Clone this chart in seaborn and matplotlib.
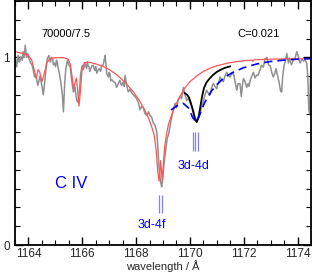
import numpy as np
import pandas as pd
import matplotlib
matplotlib.use("Agg")
import matplotlib.pyplot as plt
from matplotlib.ticker import MultipleLocator
import seaborn as sns

# ---------------- data ----------------
gray_x = [1163.50, 1163.53, 1163.56, 1163.59, 1163.62, 1163.65, 1163.68, 1163.71, 1163.74, 1163.77,
          1163.80, 1163.84, 1163.88, 1163.93, 1163.97, 1164.02, 1164.08,
          1164.14, 1164.23, 1164.28, 1164.35, 1164.43, 1164.52, 1164.55, 1164.60, 1164.64, 1164.70,
          1164.76, 1164.79, 1164.82, 1164.86, 1164.90, 1164.93, 1164.96, 1165.01, 1165.04, 1165.07,
          1165.10, 1165.14, 1165.20, 1165.26, 1165.30,
          1165.35, 1165.39, 1165.45, 1165.50, 1165.55, 1165.60, 1165.67, 1165.73, 1165.79, 1165.84,
          1165.89, 1165.94, 1166.00, 1166.03, 1166.06, 1166.09, 1166.12, 1166.16, 1166.19, 1166.22,
          1166.25, 1166.28, 1166.31, 1166.36, 1166.41, 1166.44,
          1166.47, 1166.50, 1166.54, 1166.58, 1166.63, 1166.68, 1166.72, 1166.78, 1166.81, 1166.85, 1166.91,
          1166.97, 1167.00, 1167.03, 1167.06, 1167.10, 1167.16, 1167.22, 1167.28, 1167.34, 1167.40, 1167.43,
          1167.46, 1167.53, 1167.56,
          1167.59, 1167.65, 1167.71, 1167.77, 1167.84, 1167.90, 1167.96, 1168.02, 1168.08, 1168.15,
          1168.21, 1168.27, 1168.33, 1168.40, 1168.46, 1168.52, 1168.58, 1168.64, 1168.70, 1168.77,
          1168.81, 1168.85, 1168.89, 1168.92, 1168.95, 1168.98, 1169.01, 1169.06, 1169.11, 1169.16,
          1169.20, 1169.26, 1169.32, 1169.38, 1169.45, 1169.50, 1169.56, 1169.63, 1169.69, 1169.76,
          1169.82, 1169.88, 1169.94, 1170.00, 1170.06, 1170.13, 1170.19, 1170.25, 1170.31, 1170.38,
          1170.44, 1170.50, 1170.56, 1170.62, 1170.68, 1170.75, 1170.81, 1170.87, 1170.93, 1171.00,
          1171.03, 1171.06, 1171.12, 1171.18, 1171.24, 1171.27, 1171.30, 1171.37, 1171.43, 1171.50,
          1171.53, 1171.56, 1171.62,
          1171.68, 1171.74, 1171.79, 1171.86, 1171.91, 1171.95, 1171.99, 1172.05, 1172.11, 1172.16,
          1172.20, 1172.24, 1172.30, 1172.36, 1172.42, 1172.48, 1172.53, 1172.60, 1172.66, 1172.73,
          1172.79, 1172.86, 1172.92, 1172.98, 1173.04, 1173.10, 1173.15, 1173.20, 1173.26, 1173.31,
          1173.37, 1173.41, 1173.45, 1173.50, 1173.56, 1173.60, 1173.66, 1173.69, 1173.72, 1173.78,
          1173.81, 1173.84, 1173.90,
          1173.97, 1174.04, 1174.07, 1174.10, 1174.16, 1174.22, 1174.28, 1174.34, 1174.38, 1174.42,
          1174.45, 1174.48, 1174.52]
gray_y = [1.00, 0.97, 0.95, 0.99, 1.01, 0.975, 0.98, 1.00, 1.00, 0.985,
          1.03, 1.00, 1.064, 1.00, 1.02, 0.993, 0.97,
          0.957, 0.895, 0.90, 0.85, 0.90, 0.833, 0.80, 0.86, 0.92, 0.993,
          1.01, 0.985, 0.975, 1.00, 0.99, 0.96, 0.97, 0.95, 0.985, 0.975,
          0.945, 0.92, 0.87, 0.80, 0.71,
          0.87, 0.94, 0.984, 0.96, 0.95, 0.887, 0.815, 0.84, 0.77, 0.76,
          0.815, 0.913, 0.957, 0.935, 0.945, 0.97, 0.96, 0.94, 0.975, 0.955,
          0.95, 0.925, 0.935, 0.955, 0.957, 0.94,
          0.93, 0.95, 0.915, 0.93, 0.94, 0.925, 0.957, 0.96, 0.984, 1.01, 0.913,
          0.895, 0.92, 0.91, 0.875, 0.88, 0.87, 0.865, 0.84, 0.86, 0.877, 0.86,
          0.85, 0.87, 0.845,
          0.904, 0.85, 0.815, 0.83, 0.81, 0.80, 0.79, 0.78, 0.76, 0.72,
          0.74, 0.73, 0.70, 0.69, 0.71, 0.69, 0.68, 0.65, 0.64, 0.60,
          0.52, 0.42, 0.36, 0.33, 0.31, 0.34, 0.39, 0.46, 0.52, 0.57,
          0.585, 0.63, 0.68, 0.72, 0.755, 0.73, 0.77, 0.79, 0.78, 0.84,
          0.80, 0.77, 0.78, 0.76, 0.74, 0.72, 0.68, 0.656, 0.67, 0.70,
          0.74, 0.77, 0.80, 0.825, 0.81, 0.80, 0.84, 0.86, 0.845, 0.833,
          0.855, 0.86, 0.895, 0.88, 0.87, 0.885, 0.90, 0.92, 0.90, 0.895,
          0.915, 0.91, 0.913,
          0.87, 0.825, 0.86, 0.86, 0.79, 0.85, 0.887, 0.87, 0.84, 0.86,
          0.845, 0.878, 0.90, 0.92, 0.89, 0.905, 0.904, 0.93, 0.957, 0.948,
          0.99, 1.00, 0.96, 0.955, 0.92, 0.895, 0.913, 0.94, 0.90, 0.87,
          0.82, 0.815, 0.90, 0.957, 0.99, 1.02, 0.97, 0.995, 0.98, 0.96,
          0.975, 0.985, 0.99,
          1.03, 1.00, 0.975, 0.97, 0.99, 0.98, 0.985, 0.97, 0.90, 0.72,
          0.70, 0.90, 0.98]

red_x = [1163.50, 1163.80, 1164.00, 1164.12, 1164.22, 1164.29, 1164.36, 1164.42, 1164.50, 1164.58,
         1164.68, 1164.80, 1165.00, 1165.30, 1165.48, 1165.56, 1165.62, 1165.68, 1165.74, 1165.78,
         1165.83, 1165.88, 1165.93, 1165.99, 1166.08, 1166.20, 1166.50, 1166.80, 1167.00, 1167.30,
         1167.60, 1167.90, 1168.10, 1168.30, 1168.45, 1168.58, 1168.68, 1168.75, 1168.80, 1168.85,
         1168.88, 1168.91, 1168.94, 1168.97, 1169.01, 1169.06, 1169.12, 1169.20, 1169.30, 1169.45,
         1169.60, 1169.80, 1170.00, 1170.25, 1170.50, 1170.75, 1171.00, 1171.50, 1172.00, 1172.30,
         1172.34, 1172.38, 1173.00, 1173.70, 1174.50]
red_y = [1.03, 1.02, 1.01, 0.985, 0.93, 0.89, 0.935, 0.92, 0.87, 0.91,
         0.97, 0.993, 0.998, 0.998, 0.99, 0.96, 0.90, 0.83, 0.87, 0.89,
         0.82, 0.74, 0.82, 0.93, 0.97, 0.975, 0.965, 0.95, 0.935, 0.905,
         0.865, 0.815, 0.775, 0.725, 0.68, 0.63, 0.58, 0.50, 0.40, 0.34,
         0.38, 0.45, 0.40, 0.345, 0.42, 0.52, 0.58, 0.64, 0.685, 0.74,
         0.785, 0.835, 0.87, 0.90, 0.925, 0.942, 0.955, 0.972, 0.982, 0.985,
         0.978, 0.987, 0.99, 0.992, 0.993]

black_x = [1169.80, 1169.90, 1169.97, 1170.05, 1170.12, 1170.18, 1170.25, 1170.32, 1170.38, 1170.45,
           1170.52, 1170.60, 1170.70, 1170.85, 1171.00, 1171.20, 1171.35, 1171.50]
black_y = [0.81, 0.80, 0.785, 0.75, 0.71, 0.675, 0.655, 0.68, 0.73, 0.79,
           0.835, 0.862, 0.882, 0.905, 0.922, 0.938, 0.946, 0.952]

blue_x = [1169.30, 1169.50, 1169.75, 1169.95, 1170.10, 1170.22, 1170.35, 1170.55, 1170.80, 1171.00,
          1171.30, 1171.60, 1172.00, 1172.50, 1173.00, 1173.50, 1174.00, 1174.50]
blue_y = [0.72, 0.74, 0.755, 0.73, 0.68, 0.655, 0.69, 0.76, 0.82, 0.855,
          0.895, 0.92, 0.945, 0.965, 0.978, 0.985, 0.99, 0.993]

f_lines = [1168.86, 1168.96]
d_lines = [1170.11, 1170.20, 1170.30]

# ---------------- plot ----------------
sns.set_style("ticks")
plt.rcParams['font.family'] = ['Liberation Sans', 'DejaVu Sans']

fig = plt.figure(figsize=(3.12, 2.74), dpi=100)
ax = fig.add_axes([15/312, 29/274, 296/312, 244/274])

sns.lineplot(x=gray_x, y=gray_y, ax=ax, color="#909090", lw=1.1, estimator=None, sort=False)
sns.lineplot(x=red_x, y=red_y, ax=ax, color="#ff5555", lw=0.9, estimator=None, sort=False)
sns.lineplot(x=black_x, y=black_y, ax=ax, color="black", lw=1.3, estimator=None, sort=False)
sns.lineplot(x=blue_x, y=blue_y, ax=ax, color="#0000ff", lw=1.2, estimator=None, sort=False,
             dashes=False, linestyle=(0, (5, 3)))

ax.vlines(f_lines, 0.17, 0.265, color="#8080ff", lw=0.9)
ax.vlines(d_lines, 0.50, 0.60, color="#8080ff", lw=0.9)

ax.text(1168.59, 0.104, "3d-4f", color="#0000ff", fontsize=9, ha="center", va="center")
ax.text(1170.15, 0.42, "3d-4d", color="#0000ff", fontsize=9, ha="center", va="center")
ax.text(1165.58, 0.33, "C IV", color="#0000ff", fontsize=12, ha="center", va="center")
ax.text(1165.40, 1.122, "70000/7.5", color="black", fontsize=8, ha="center", va="center")
ax.text(1172.54, 1.122, "C=0.021", color="black", fontsize=8, ha="center", va="center")

ax.set_xlim(1163.5, 1174.5)
ax.set_ylim(0, 1.3)
ax.xaxis.set_major_locator(MultipleLocator(2))
ax.xaxis.set_minor_locator(MultipleLocator(0.5))
ax.yaxis.set_major_locator(MultipleLocator(1))
ax.yaxis.set_minor_locator(MultipleLocator(0.1))
ax.tick_params(which="both", direction="in", top=True, right=True, labelsize=8.5, color="black")
ax.tick_params(axis="x", pad=2.5)
ax.tick_params(which="major", length=6, width=1)
ax.tick_params(which="minor", length=3.5, width=0.8)
ax.set_xlabel("wavelength / Å", fontsize=8, labelpad=0)
ax.set_ylabel("")
for s in ax.spines.values():
    s.set_linewidth(1.3)
    s.set_color("black")

fig.savefig("out.png", dpi=100)
